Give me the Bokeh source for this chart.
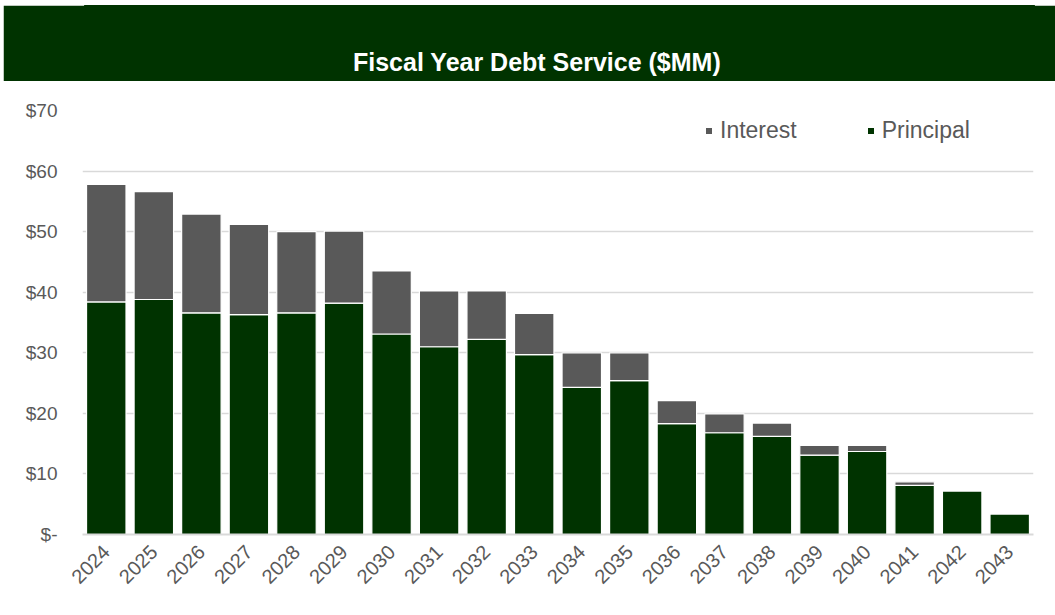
import math
from bokeh.plotting import figure
from bokeh.layouts import column
from bokeh.core.properties import value
from bokeh.models import ColumnDataSource, Legend, LegendItem, FixedTicker, CustomJSTickFormatter
from bokeh.embed import file_html
from bokeh.resources import INLINE

years = [str(y) for y in range(2024, 2044)]
principal = [38.4, 38.8, 36.6, 36.3, 36.6, 38.2, 33.1, 31.0, 32.2, 29.7,
             24.3, 25.4, 18.3, 16.8, 16.2, 13.1, 13.7, 8.1, 7.2, 3.4]
interest = [19.4, 17.8, 16.3, 14.9, 13.4, 11.9, 10.4, 9.2, 8.0, 6.8,
            5.7, 4.6, 3.8, 3.1, 2.2, 1.6, 1.0, 0.6, 0.0, 0.0]
y_ticks = [0, 10, 20, 30, 40, 50, 60, 70]
title_text = ["Fiscal Year Debt Service ($MM)"]

GREEN = "#003300"
GRAY = "#595959"
FONT = "Liberation Sans"

# Header band (frame is aligned with the chart frame: x in page pixels 82..1033)
header = figure(width=1052, height=76, x_range=(82, 1033), y_range=(0, 76),
                output_backend="svg", toolbar_location=None,
                min_border=0, outline_line_color=GREEN, outline_line_width=3,
                background_fill_color=GREEN, border_fill_color=GREEN,
                margin=(5, 0, 0, 3))
header.axis.visible = False
header.grid.visible = False
header.text(x=[535], y=[20], text=title_text, text_color="white",
            text_font=value(FONT), text_font_style="bold", text_font_size="25px",
            text_align="center", text_baseline="middle")

src = ColumnDataSource(dict(years=years, Principal=principal, Interest=interest))

p = figure(width=1055, height=534, x_range=years, y_range=(0, 70),
           output_backend="svg", toolbar_location=None,
           min_border_left=82, min_border_right=22, min_border_top=29,
           min_border_bottom=81, outline_line_color=None)

rs = p.vbar_stack(["Principal", "Interest"], x="years", width=0.83, source=src,
                  fill_color=[GREEN, GRAY], line_color="white", line_width=1.2)

legend = Legend(items=[LegendItem(label="Interest", renderers=[rs[1]]),
                       LegendItem(label="Principal", renderers=[rs[0]])],
                orientation="horizontal", location=(622, 390),
                label_text_font=FONT, label_text_font_size="23px",
                label_text_color=GRAY, glyph_width=9, glyph_height=9,
                label_standoff=7, spacing=69, padding=0, margin=0,
                border_line_color=None, background_fill_alpha=0)
p.add_layout(legend)

p.ygrid.grid_line_color = "#d9d9d9"
p.ygrid.grid_line_width = 1.5
p.xgrid.grid_line_color = None
p.yaxis.ticker = FixedTicker(ticks=y_ticks)
p.yaxis.formatter = CustomJSTickFormatter(code="return tick == 0 ? '$-' : '$' + tick;")
p.yaxis.axis_line_color = None
p.yaxis.major_tick_line_color = None
p.yaxis.minor_tick_line_color = None
p.yaxis.major_label_standoff = 19
p.xaxis.axis_line_color = "#d9d9d9"
p.xaxis.axis_line_width = 2
p.xaxis.major_tick_line_color = None
p.xaxis.major_label_orientation = math.pi / 4
p.xaxis.major_label_standoff = 8
for ax in (p.xaxis, p.yaxis):
    ax.major_label_text_font = FONT
    ax.major_label_text_color = GRAY
p.yaxis.major_label_text_font_size = "19px"
p.xaxis.major_label_text_font_size = "20px"

layout = column(header, p, spacing=0)
open("out.html", "w").write(file_html(layout, INLINE))
